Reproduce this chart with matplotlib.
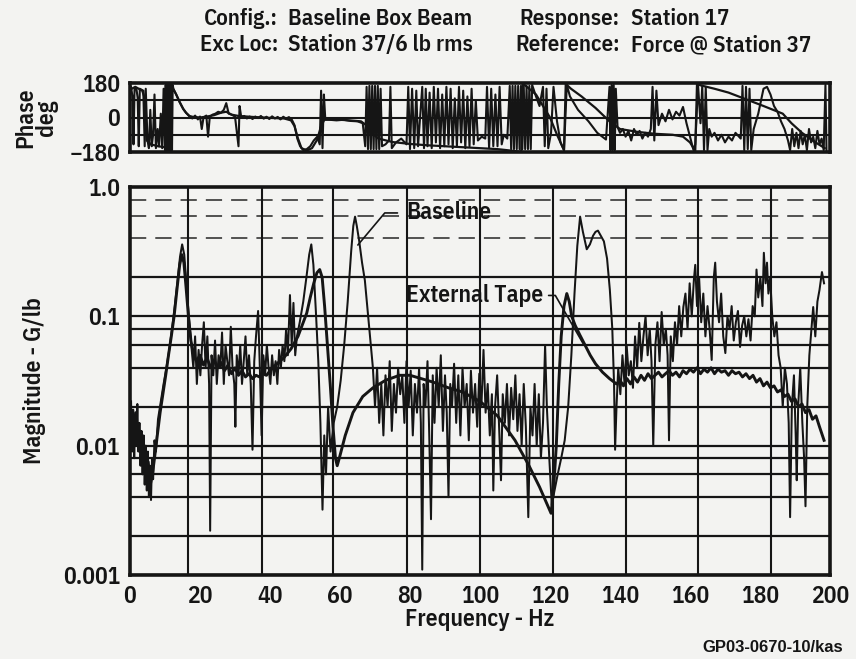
import matplotlib

matplotlib.use("Agg")
import matplotlib.pyplot as plt

FONT = ["IBM Plex Sans Condensed", "DejaVu Sans"]
INK = "#151515"
PAPER = "#f3f3f1"

# Baseline FRF magnitude (G/lb)
base_freq = [
    0.3, 0.6, 0.9, 1.2, 1.5, 1.8, 2.1, 2.4, 2.7, 3.0, 3.3, 3.6, 3.9, 4.2, 4.5, 4.8,
    5.1, 5.4, 5.7, 6.0, 6.3, 6.6, 7.0, 7.4,
    8.0, 8.8, 9.6, 10.4, 11.2, 12.0, 12.8, 13.6, 14.3, 14.9, 15.5, 16.1, 16.8, 17.5,
    18.1, 18.6, 19.1, 19.6, 20.1, 20.6, 21.1, 21.6, 22.1, 22.6, 22.9, 23.3, 23.8,
    24.3, 24.8, 25.3, 25.8, 26.3, 26.8, 27.3, 27.8, 28.3, 28.8, 29.3, 29.8, 30.1,
    30.5, 31.0, 31.5, 32.0, 32.5, 33.0, 33.5, 34.0, 34.5, 35.0, 35.5, 36.0, 36.6,
    37.1, 37.6, 38.1, 38.6, 39.1, 39.6, 40.1, 40.6, 41.1, 41.6, 42.1, 42.6, 43.1,
    43.6, 44.1, 44.6, 45.1, 45.7, 46.2, 46.7, 47.2, 47.7,
    48.5, 49.5, 50.4, 51.2, 51.8, 52.4, 53.1, 53.8, 54.4, 55.0, 55.5, 56.0, 56.6,
    57.3, 58.2, 59.2, 60.2, 61.2, 62.2, 63.2, 63.8, 64.3, 64.8, 65.5, 66.3, 67.1,
    67.9, 68.7, 69.4,
    70.0, 70.6, 71.2, 71.8, 72.4, 73.0, 73.6, 74.2, 74.8, 75.4, 76.0, 76.6, 77.2,
    77.8, 78.4, 79.0, 79.6, 80.2, 80.8, 81.4, 82.0, 82.6, 83.1, 83.5, 83.9, 84.4,
    85.0, 85.5, 86.0, 86.5, 87.0, 87.6, 88.2, 88.8, 89.4, 90.0, 90.5, 91.0, 91.5,
    92.0, 92.6, 93.2, 93.8, 94.4, 95.0, 95.6, 96.2, 96.8, 97.4, 98.0, 98.6, 99.2,
    99.8, 100.4, 101.0, 101.6, 102.2, 102.8, 103.4, 103.8, 104.3, 104.9, 105.5,
    106.0, 106.5, 107.1, 107.7, 108.3, 108.9, 109.5, 110.1, 110.7, 111.3, 111.9,
    112.5, 113.1, 113.8, 114.4, 115.0, 115.6, 116.2, 116.8, 117.4, 118.0,
    118.6, 119.1, 119.8, 120.5, 121.3, 122.2, 123.2, 124.2, 125.2, 126.1, 127.0,
    127.8, 128.6, 129.4, 130.5, 131.4, 132.3, 133.0, 133.7, 134.5, 135.4, 136.3,
    137.1, 137.8, 138.3, 138.6, 139.0, 139.5,
    140.1, 140.7, 141.3, 141.9, 142.5, 143.1, 143.7, 144.3, 144.9, 145.5, 146.1,
    146.7, 147.3, 147.9, 148.5, 149.0, 149.5, 150.1, 150.7, 151.3, 151.9, 152.5,
    153.1, 153.6, 154.0, 154.5, 155.1, 155.7, 156.3, 156.9, 157.5, 158.1, 158.7,
    159.3, 159.9, 160.5, 161.1, 161.5, 162.0, 162.6, 163.2, 163.8, 164.4, 165.0,
    165.6, 166.2, 166.8, 167.2, 167.7, 168.3, 168.9, 169.5, 170.1, 170.7, 171.3,
    171.9, 172.5, 173.1, 173.7, 174.3, 174.9, 175.5, 176.1, 176.7, 177.3, 177.9,
    178.5, 179.0, 179.5, 180.1, 180.7, 181.1, 181.6, 182.0, 182.4, 182.9, 183.5,
    184.1, 184.7, 185.3, 185.9, 186.5, 187.1, 187.7, 188.2, 188.6, 189.1, 189.7,
    190.2, 190.5, 190.9, 191.5, 192.1, 192.6, 193.0, 193.5, 194.1, 194.7, 195.2,
    195.8, 196.4, 197.0, 197.7, 198.3,
]
base_mag = [
    0.022, 0.009, 0.019, 0.008, 0.016, 0.010, 0.021, 0.009, 0.015, 0.007, 0.013,
    0.006, 0.012, 0.005, 0.010, 0.0045, 0.009, 0.004, 0.007, 0.0038, 0.008, 0.0055,
    0.011, 0.009,
    0.016, 0.022, 0.03, 0.04, 0.055, 0.08, 0.12, 0.19, 0.29, 0.36, 0.30, 0.18, 0.10,
    0.06,
    0.04, 0.07, 0.03, 0.055, 0.035, 0.06, 0.09, 0.04, 0.07, 0.03, 0.0022, 0.05,
    0.035, 0.065, 0.03, 0.05, 0.04, 0.075, 0.03, 0.06, 0.045, 0.035, 0.083, 0.04,
    0.03, 0.014, 0.05, 0.035, 0.06, 0.03, 0.045, 0.07, 0.035, 0.05, 0.03, 0.0093,
    0.045, 0.07, 0.11, 0.04, 0.012, 0.05, 0.035, 0.06, 0.04, 0.03, 0.05, 0.035,
    0.045, 0.03, 0.055, 0.04, 0.06, 0.045, 0.08, 0.05, 0.146, 0.06, 0.127, 0.05,
    0.07,
    0.09, 0.13, 0.2, 0.3, 0.36, 0.25, 0.11, 0.045, 0.015, 0.0032, 0.012, 0.006,
    0.02, 0.009, 0.015, 0.02, 0.032, 0.06, 0.13, 0.32, 0.5, 0.59, 0.5, 0.38, 0.26,
    0.19, 0.11, 0.065, 0.04,
    0.02, 0.04, 0.015, 0.03, 0.012, 0.035, 0.02, 0.045, 0.013, 0.03, 0.018, 0.04,
    0.025, 0.035, 0.015, 0.045, 0.02, 0.038, 0.012, 0.03, 0.018, 0.04, 0.015,
    0.0011, 0.03, 0.02, 0.045, 0.012, 0.0027, 0.035, 0.015, 0.04, 0.02, 0.05,
    0.013, 0.035, 0.018, 0.004, 0.03, 0.02, 0.043, 0.015, 0.035, 0.012, 0.04,
    0.02, 0.03, 0.011, 0.038, 0.018, 0.03, 0.014, 0.036, 0.02, 0.055, 0.018,
    0.03, 0.012, 0.025, 0.0045, 0.02, 0.035, 0.013, 0.0054, 0.025, 0.015, 0.03,
    0.012, 0.028, 0.016, 0.035, 0.013, 0.025, 0.01, 0.03, 0.014, 0.0028, 0.02,
    0.012, 0.03, 0.01, 0.025, 0.008, 0.015,
    0.06, 0.02, 0.008, 0.0035, 0.0045, 0.006, 0.008, 0.011, 0.02, 0.05, 0.15,
    0.35, 0.59, 0.45, 0.33, 0.36, 0.42, 0.45, 0.46, 0.42, 0.38, 0.28, 0.16, 0.08,
    0.03, 0.0093, 0.02, 0.04,
    0.025, 0.05, 0.03, 0.06, 0.035, 0.045, 0.028, 0.07, 0.04, 0.089, 0.045, 0.07,
    0.1, 0.05, 0.08, 0.045, 0.01, 0.06, 0.09, 0.045, 0.108, 0.06, 0.08, 0.05,
    0.011, 0.07, 0.045, 0.09, 0.06, 0.12, 0.07, 0.118, 0.15, 0.08, 0.18, 0.1,
    0.19, 0.25, 0.12, 0.2, 0.09, 0.15, 0.07, 0.12, 0.08, 0.046, 0.2, 0.26, 0.13,
    0.09, 0.15, 0.07, 0.052, 0.1, 0.08, 0.12, 0.065, 0.09, 0.11, 0.058, 0.085,
    0.1, 0.07, 0.095, 0.065, 0.12, 0.1, 0.23, 0.14, 0.2, 0.12, 0.31, 0.18, 0.26,
    0.15, 0.2, 0.1, 0.07, 0.09, 0.05, 0.04, 0.02, 0.04, 0.03, 0.015, 0.0028, 0.02,
    0.035, 0.012, 0.0054, 0.02, 0.04, 0.015, 0.008, 0.0034, 0.02, 0.05, 0.08,
    0.118, 0.07, 0.13, 0.16, 0.22, 0.18,
]

# External tape FRF magnitude (G/lb)
tape_freq = [
    0.5, 1.0, 1.6, 2.2, 2.8, 3.4, 4.0, 4.6, 5.2, 5.8, 6.4, 7.0, 7.8, 8.6,
    9.4, 10.2, 11.0, 11.8, 12.6, 13.4, 14.2, 14.8, 15.4, 16.0, 16.7, 17.4, 18.2,
    19, 20, 21, 22, 23, 24, 25, 26, 27, 28, 29, 30, 31, 32, 33, 34, 35, 36, 37,
    38, 39, 40, 42, 44, 46, 48, 49.5, 50.5, 51.5, 52.5, 53.4, 54.2, 54.9, 55.6,
    56.4, 57.2, 58.0, 58.7, 59.2, 59.8, 61.5, 63.7, 66.5, 69.4, 73, 77, 80, 86.6,
    91, 95, 100, 105, 110, 114, 117, 119, 120.3, 121.0, 121.8, 122.5, 123.2,
    124.0, 124.8, 125.5, 126.2, 127.2, 128.5, 130, 131.5, 133, 135, 137, 139,
    140, 141, 142, 143, 144, 145, 146, 147, 148, 149, 150, 151, 152, 153, 154,
    155, 156, 157, 158, 159, 160, 161, 162, 163, 164, 165, 166, 167, 168, 169,
    170, 171, 172, 173, 174, 175, 176, 177, 178, 179, 180, 181, 182, 183, 184,
    185, 186, 187, 188, 189, 190, 191, 192, 193, 194, 195, 196, 197, 198.3,
]
tape_mag = [
    0.015, 0.012, 0.018, 0.01, 0.013, 0.008, 0.01, 0.006, 0.0075, 0.005, 0.006,
    0.008, 0.012, 0.018,
    0.025, 0.035, 0.05, 0.07, 0.1, 0.16, 0.25, 0.3, 0.26, 0.17, 0.1, 0.065, 0.05,
    0.045, 0.05, 0.042, 0.048, 0.04, 0.046, 0.04, 0.044, 0.038, 0.042, 0.036,
    0.04, 0.035, 0.038, 0.034, 0.036, 0.033, 0.035, 0.034, 0.036, 0.035, 0.038,
    0.043, 0.048, 0.056, 0.07, 0.09, 0.106, 0.14, 0.18, 0.217, 0.23, 0.2, 0.12,
    0.06, 0.03, 0.014, 0.008, 0.007, 0.008, 0.012, 0.018, 0.024, 0.028, 0.032,
    0.035, 0.035, 0.031, 0.028, 0.026, 0.022, 0.017, 0.011, 0.007, 0.0048, 0.0036,
    0.003, 0.0045, 0.01, 0.03, 0.07, 0.12, 0.15, 0.13, 0.1, 0.085, 0.072, 0.06,
    0.05, 0.043, 0.037, 0.033, 0.03,
    0.032, 0.029, 0.033, 0.03, 0.034, 0.031, 0.035, 0.032, 0.036, 0.033, 0.035,
    0.037, 0.034, 0.036, 0.038, 0.035, 0.037, 0.034, 0.038, 0.036, 0.039, 0.037,
    0.04, 0.036, 0.039, 0.037, 0.04, 0.036, 0.039, 0.037, 0.038, 0.035, 0.038,
    0.036, 0.037, 0.034, 0.036, 0.033, 0.035, 0.031, 0.033, 0.029, 0.031, 0.028,
    0.029, 0.026, 0.027, 0.024, 0.025, 0.022, 0.023, 0.02, 0.021, 0.018, 0.019,
    0.016, 0.017, 0.014, 0.011,
]

# Phase (deg)
base_phase_freq = [
    0.3, 0.7, 1.0, 1.3, 1.8, 2.2, 2.5, 2.8, 3.3, 3.8,
    4.2, 4.5, 5.0, 5.4, 5.8, 6.2, 6.6, 7.0, 7.4, 7.9, 8.3, 8.8, 9.2, 9.6, 10.0,
    10.2, 10.4, 10.6, 10.8, 11.0, 11.2, 11.4, 11.6, 11.8, 12.0, 12.2, 12.4,
    13.2, 14.2, 15.2, 16.0, 17.0,
    17.8, 18.6, 19.4, 20.0, 20.5, 21.0, 21.8, 22.3, 22.8, 23.6, 24.4, 25.2, 26.0,
    26.8, 27.5, 28.2, 29.0, 30.0, 31.0, 31.3, 31.8, 32.6, 33.4, 34.2, 35.0, 35.8,
    36.6, 37.4, 38.2, 39.0, 39.8, 40.6, 41.4, 42.2, 43.0, 43.8, 44.6, 45.4, 46.2,
    47.0,
    47.8, 48.6, 49.5, 50.5, 51.5, 52.5, 53.5, 54.2, 54.6, 55.0, 55.4, 55.8,
    57, 59, 61, 63, 65, 66.5, 67.2,
    67.6, 68.0, 68.4, 68.8, 69.2, 69.6, 70.0, 70.4, 70.8, 71.2, 71.6, 72.0,
    73.0, 74.0, 74.4, 74.8, 76.0, 77.5, 79.0, 79.5, 80.0, 80.6, 81.2, 81.8, 82.3,
    83.5, 84.0, 84.5, 85.0, 85.6, 86.2, 86.8, 87.4, 88.0, 88.6, 89.2, 89.8, 90.4,
    91.0, 91.6, 92.2, 92.8, 93.4, 94.0, 94.6, 95.2, 95.8, 96.4, 97.0, 97.6, 98.2,
    98.8, 99.4, 100.5, 101.5, 102.0, 102.6, 103.2, 103.8, 104.4, 105.0, 105.6,
    106.2, 106.8, 107.8, 108.5, 108.9, 109.3, 109.7, 110.1, 110.5, 110.9, 111.3,
    111.7, 112.1, 112.5, 112.9, 113.3, 113.7, 114.1, 114.5, 114.9, 116.0, 117.0,
    118.0, 118.5, 119.0, 119.5, 120.3, 121.0, 122.0, 123.0, 124.0, 124.8, 125.7,
    128.0, 131.0, 133.5, 136.0, 137.0, 137.3, 137.6, 137.9, 138.2, 138.5, 138.8,
    139.3,
    140.0, 140.8, 141.6, 142.4, 143.2, 144.0, 144.8, 145.6, 146.4, 147.2, 148.0,
    148.8, 149.3, 149.8, 150.4, 151.0, 152.0, 153.0, 154.0, 155.0, 156.0, 157.0,
    158.0, 159.0, 160.0, 161.0, 161.5, 162.3, 163.0, 163.5, 164.0, 164.5, 165.0,
    165.5, 166.2, 167.0, 168.0, 169.0, 170.0, 171.0, 172.0, 173.0, 174.5, 175.0,
    175.5, 176.0, 176.5, 177.0, 177.5, 178.2, 179.5, 181.0, 182.0, 183.0, 184.0,
    185.0, 186.0, 187.0, 188.0, 188.6, 189.2, 189.8, 190.4, 191.0, 191.6, 192.2,
    192.8, 193.4, 194.0, 194.6, 195.2, 195.8, 196.4, 197.0, 197.6, 198.2, 198.7,
    199.0,
]
base_phase = [
    160, 110, -140, 150, 155, 100, -150, 150, 145, 140,
    -150, 150, -120, -160, 40, -150, -90, 120, -160, -60, -150, 20, -160, 150, -170,
    170, -170, 170, -170, 170, -170, 170, -170, 170, -170, 170, 150,
    120, 80, 45, 25, 5,
    -5, 10, -10, 5, -60, 0, 10, -100, 5, 15, 20, 30, 25,
    40, 75, 20, 15, 5, -150, 60, 0, 8, -5, 5, -8, 5,
    -3, 8, -6, 4, -8, 6, -5, 3, -10, 4, -6, 2, -10,
    -40,
    -110, -150, -170, -165, -150, -120, -100, -140, 140, -160, 120, -10,
    -12, -15, -12, -18, -20, -30, -150,
    160, -165, 165, -165, 165, -165, 165, -165, 165, -165, 150, -150,
    -140, -120, 160, -160, -130, -110, -140, 160, -165, 150, -160, 140, -150,
    160, -160, 150, -150, 130, -160, 160, -130, 150, -160, 120, -150, 160,
    -140, 150, -160, 100, -150, 160, -130, 140, -160, 110, -150, 150, -140,
    90, -120, -100, -110, 160, -160, 150, -150, 120, -150, 160,
    -140, -90, -110, 165, -165, 165, -165, 165, -165, 165, -165,
    165, -165, 165, -165, 165, -165, 165, -165, 170, 110, 60,
    160, -150, 150, -160, -80, 160, -20, -130, -170, 170, 110,
    40, -20, -80, -115, 160, -170, 170, -170, 170, -170, 150,
    -50,
    -80, -60, -100, -70, -120, -60, -90, -70, -110, -80, -100,
    -60, 160, -120, 140, -40, 20, -20, 40, -10, 30, 10,
    55, -30, -100, -170, -140, 170, -30, 165, -170, 160, -170,
    -60, -100, -80, -120, -90, -130, -100, -120, -80, -110, 165,
    -170, 160, -165, 150, -170, -60, 20, 150, 160, 120, 60,
    30, -20, -60, -120, -170, -60, -150, -80, -160, -70, -140,
    -90, -170, -60, -130, -100, -160, -70, -140, -110, -170, 170,
    -170,
]

tape_phase_freq = [
    0.5, 1.5, 2.5, 3.5, 4.2, 4.8, 6, 8, 10, 11, 11.5, 12.3, 13.2, 14.2, 15.2, 16,
    17, 18, 20, 22, 24, 26, 27.5, 29, 31, 35, 40, 44, 46, 47, 48, 49, 50.5, 52,
    53.5, 54.5, 55.5, 58, 62, 66, 67.5, 69, 71, 75, 80, 85, 90, 95, 100, 105,
    110, 111.8, 112.2, 116, 120, 122, 124, 124.5, 126, 129, 133, 137, 140, 145,
    150, 155, 158, 160, 161.5, 162.0, 163, 167, 171, 176, 181, 186.5, 189, 192,
    195, 198.5,
]
tape_phase = [
    150, 160, 150, 140, 100, -120, -140, -150, -155, -170, 175, 150, 120, 80, 45,
    25, 8, 3, 0, 5, 12, 25, 30, 15, 8, 3, -2, -5, -15, -45, -110, -160, -172,
    -160, -115, -50, -12, -10, -14, -20, -40, -80, -110, -128, -138, -145, -150,
    -155, -160, -165, -175, -179, 178, 120, 0, -90, -170, 175, 150, 110, 50, -20,
    -60, -75, -85, -90, -100, -130, -175, 175, 168, 150, 130, 95, 60, 20, -30,
    -80, -120, -160,
]

# gridline positions as printed on the scanned plot (Hz)
GRID_X = [16.6, 37.7, 58.0, 79.1, 100.0, 120.9, 141.7, 162.3, 183.1]


def style_axes(ax) -> None:
    ax.set_facecolor(PAPER)
    for spine in ax.spines.values():
        spine.set_linewidth(2.6)
        spine.set_color(INK)
    ax.tick_params(length=0, pad=7, labelsize=17, colors=INK)
    ax.set_xlim(0, 200)


def plot_phase(fig) -> None:
    ax = fig.add_axes([130 / 856, 1 - 152 / 659, 700 / 856, 69 / 659])
    style_axes(ax)

    for level in (-90, 0, 90):
        ax.axhline(level, color=INK, lw=1.5, zorder=1)

    ax.plot(tape_phase_freq, tape_phase, color=INK, lw=1.6, zorder=2)
    ax.plot(base_phase_freq, base_phase, color=INK, lw=1.5, zorder=3)

    ax.set_ylim(-180, 180)
    ax.set_yticks([-180, 0, 180])
    ax.set_yticklabels(["\u2212180", "0", "180"])
    ax.set_xticks([])
    ax.set_ylabel("Phase\ndeg", fontsize=17, color=INK, labelpad=8, linespacing=0.9)


def plot_magnitude(fig) -> None:
    ax = fig.add_axes([130 / 856, 1 - 575 / 659, 700 / 856, 388 / 659])
    style_axes(ax)
    ax.set_yscale("log")
    ax.set_ylim(0.001, 1.0)

    for decade in (0.001, 0.01, 0.1):
        for k in (1, 2, 4, 6, 8):
            level = decade * k
            if decade == 0.1 and k > 2:
                ax.axhline(level, color="#444444", lw=1.3, ls=(0, (9, 5)), zorder=1)
            else:
                ax.axhline(level, color=INK, lw=1.6, zorder=1)
    for x in GRID_X:
        ax.axvline(x, color=INK, lw=1.5, zorder=1)

    ax.plot(tape_freq, tape_mag, color=INK, lw=2.1, zorder=2)
    ax.plot(base_freq, base_mag, color=INK, lw=1.45, zorder=3)

    ax.set_yticks([0.001, 0.01, 0.1, 1.0])
    ax.set_yticklabels(["0.001", "0.01", "0.1", "1.0"])
    ax.minorticks_off()
    ax.set_xticks(range(0, 201, 20))

    ax.set_xlabel("Frequency - Hz", fontsize=17, color=INK, labelpad=0)
    ax.set_ylabel("Magnitude - G/lb", fontsize=17, color=INK, labelpad=12)

    ax.annotate(
        "Baseline",
        xy=(65.1, 0.356),
        xytext=(78.8, 0.63),
        fontsize=17,
        color=INK,
        va="center",
        ha="left",
        arrowprops=dict(
            arrowstyle="-",
            color=INK,
            lw=1.2,
            relpos=(0, 0.5),
            shrinkA=4,
            shrinkB=0,
            connectionstyle="angle,angleA=180,angleB=50,rad=0",
        ),
    )
    ax.annotate(
        "External Tape",
        xy=(129.4, 0.062),
        xytext=(78.8, 0.145),
        fontsize=17,
        color=INK,
        va="center",
        ha="left",
        arrowprops=dict(
            arrowstyle="-",
            color=INK,
            lw=1.2,
            relpos=(1, 0.5),
            shrinkA=2,
            shrinkB=0,
            connectionstyle="angle,angleA=0,angleB=120,rad=0",
        ),
    )


def add_header(fig) -> None:
    rows = [
        (0.972, "Config.:", "Baseline Box Beam", "Response:", "Station 17"),
        (0.932, "Exc Loc:", "Station 37/6 lb rms", "Reference:", "Force @ Station 37"),
    ]
    for y, k1, v1, k2, v2 in rows:
        fig.text(0.325, y, k1, ha="right", va="center", fontsize=16.5, color=INK)
        fig.text(0.336, y, v1, ha="left", va="center", fontsize=16.5, color=INK)
        fig.text(0.724, y, k2, ha="right", va="center", fontsize=16.5, color=INK)
        fig.text(0.737, y, v2, ha="left", va="center", fontsize=16.5, color=INK)

    fig.text(
        0.985, 0.017, "GP03-0670-10/kas",
        ha="right", va="center", fontsize=12, color=INK, weight="bold",
        family=["Liberation Sans", "DejaVu Sans"],
    )


def main() -> None:
    plt.rcParams["font.family"] = FONT
    plt.rcParams["font.weight"] = 600
    plt.rcParams["axes.labelweight"] = 600

    fig = plt.figure(figsize=(8.56, 6.59), dpi=100, facecolor=PAPER)
    add_header(fig)
    plot_phase(fig)
    plot_magnitude(fig)
    fig.savefig("out.png", dpi=100, facecolor=PAPER)
    plt.close(fig)


if __name__ == "__main__":
    main()
